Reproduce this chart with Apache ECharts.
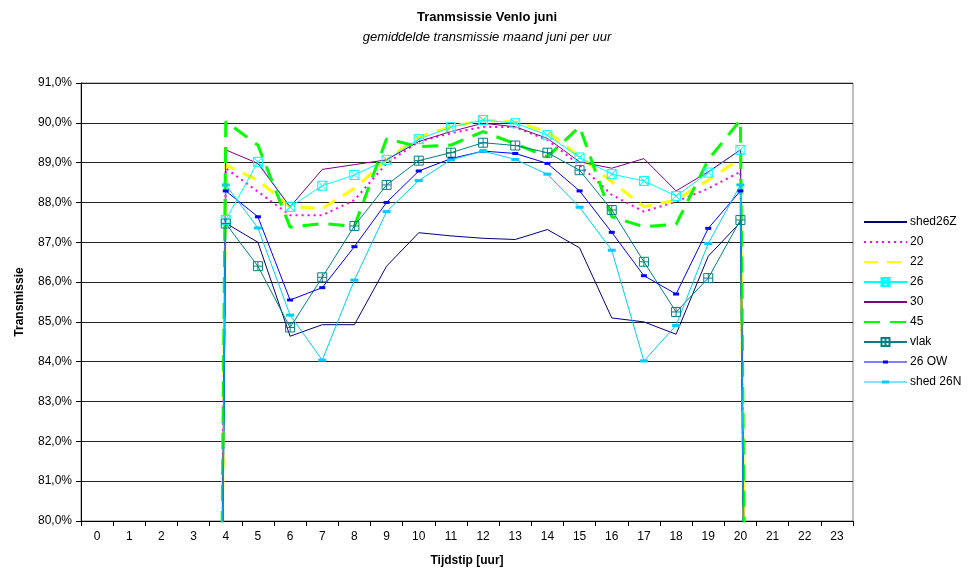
<!DOCTYPE html>
<html>
<head>
<meta charset="utf-8">
<script src="https://cdn.jsdelivr.net/npm/echarts@6/dist/echarts.min.js"></script>
<style>
  html, body { margin: 0; padding: 0; background: #fff; }
  #chart { width: 974px; height: 572px; }
</style>
</head>
<body>
<div id="chart"></div>
<script>
// Hours of the day (category axis)
const hours = ['0','1','2','3','4','5','6','7','8','9','10','11','12','13','14','15','16','17','18','19','20','21','22','23'];

// Mean hourly transmission in June, percent (0 = no sun)
const shed26Z = [0,0,0,0,87.48,87.00,84.64,84.93,84.93,86.40,87.24,87.16,87.10,87.07,87.32,86.86,85.10,85.00,84.69,86.65,87.50,0,0,0];
const s20     = [0,0,0,0,88.86,88.27,87.68,87.68,88.06,88.98,89.53,89.74,89.90,89.89,89.57,88.94,88.19,87.77,88.02,88.35,88.77,0,0,0];
const s22     = [0,0,0,0,88.94,88.56,87.89,87.85,88.35,89.07,89.65,89.90,90.07,90.02,89.78,89.15,88.52,87.89,88.06,88.56,89.10,0,0,0];
const s26     = [0,0,0,0,87.56,89.02,87.89,88.42,88.69,89.07,89.59,89.89,90.07,89.99,89.69,89.13,88.71,88.54,88.16,88.75,89.32,0,0,0];
const s30     = [0,0,0,0,89.32,88.98,87.89,88.83,88.95,89.07,89.53,89.78,89.99,89.90,89.61,89.02,88.86,89.10,88.29,88.77,89.32,0,0,0];
const s45     = [0,0,0,0,90.03,89.44,87.38,87.47,87.40,89.60,89.40,89.44,89.78,89.47,89.15,89.90,87.64,87.39,87.45,89.07,90.07,0,0,0];
const vlak    = [0,0,0,0,87.47,86.40,84.86,86.12,87.41,88.44,89.05,89.25,89.50,89.43,89.25,88.81,87.81,86.51,85.25,86.10,87.56,0,0,0];
const s26OW   = [0,0,0,0,88.29,87.64,85.55,85.86,86.89,88.00,88.79,89.10,89.29,89.23,88.98,88.29,87.25,86.16,85.70,87.35,88.29,0,0,0];
const shed26N = [0,0,0,0,88.44,87.36,85.17,84.04,86.05,87.77,88.55,89.07,89.29,89.08,88.71,87.88,86.80,84.02,84.91,86.97,88.44,0,0,0];

// Marker shapes: box with a cross, box with a plus, short bars
const boxCross = 'path://M0,0H10V10H0Z M0,0L10,10 M10,0L0,10';
const boxPlus  = 'path://M0,0H10V10H0Z M5,0V10 M0,5H10';
const shortBar = 'path://M0,0H6V3H0Z';
const longBar  = 'path://M0,0H8V3H0Z';
// Legend keys for the bar-marked lines: a thin line with the bar in the middle
const shortBarKey = 'path://M0,1H43V2H0Z M19,0H24V3H19Z';
const longBarKey  = 'path://M0,1H43V2H0Z M18,0H25V3H18Z';

function line(name, data, color, opts) {
  opts = opts || {};
  return {
    name: name,
    type: 'line',
    data: data,
    clip: true,
    showAllSymbol: true,
    symbol: opts.symbol || 'none',
    symbolSize: opts.symbolSize || 8,
    symbolKeepAspect: true,
    lineStyle: { color: color, width: opts.width || 1, type: opts.type || 'solid' },
    itemStyle: opts.hollow
      ? { color: 'rgba(255,255,255,0)', borderColor: color, borderWidth: 1 }
      : { color: color, borderColor: color, borderWidth: 0 },
    emphasis: { disabled: true },
    animation: false
  };
}

const series = [
  line('shed26Z', shed26Z, '#000080'),
  line('20', s20, '#FF00FF', { type: [2, 4], width: 2 }),
  line('22', s22, '#FFFF00', { type: [14, 9], width: 3 }),
  line('26', s26, '#00FFFF', { symbol: boxCross, symbolSize: 9, hollow: true }),
  line('30', s30, '#800080'),
  line('45', s45, '#00FF00', { type: [16, 10], width: 3 }),
  line('vlak', vlak, '#008080', { symbol: boxPlus, symbolSize: 9, hollow: true }),
  line('26 OW', s26OW, '#0000FF', { symbol: shortBar, symbolSize: 6 }),
  line('shed 26N', shed26N, '#00CCFF', { symbol: longBar, symbolSize: 8 })
];

// Legend entries: plain lines get no marker in their key
const legendData = series.map(s => {
  if (s.symbol === 'none') return { name: s.name, itemStyle: { opacity: 0 } };
  if (s.symbol === shortBar) return { name: s.name, icon: shortBarKey };
  if (s.symbol === longBar) return { name: s.name, icon: longBarKey };
  return { name: s.name };
});

const chart = echarts.init(document.getElementById('chart'));
chart.setOption({
  animation: false,
  backgroundColor: '#ffffff',
  title: [
    { text: 'Tranmsissie Venlo juni', left: 'center', top: 6,
      textStyle: { fontFamily: 'Liberation Sans, Arial', fontSize: 13, fontWeight: 'bold', color: '#000' } },
    { text: 'gemiddelde transmissie maand juni per uur', left: 'center', top: 26,
      textStyle: { fontFamily: 'Liberation Sans, Arial', fontSize: 13, fontWeight: 'normal', fontStyle: 'italic', color: '#000' } }
  ],
  legend: {
    data: legendData,
    orient: 'vertical',
    left: 863,
    top: 216,
    padding: 0,
    itemWidth: 43,
    itemHeight: 10,
    itemGap: 8,
    symbolKeepAspect: true,
    textStyle: { fontFamily: 'Liberation Sans, Arial', fontSize: 12, color: '#000', padding: [0, 0, 0, -2] },
    selectedMode: false
  },
  grid: {
    left: 81, right: 121, top: 83, bottom: 51,
    show: true, borderColor: '#808080', borderWidth: 1, backgroundColor: '#fff'
  },
  xAxis: {
    type: 'category',
    data: hours,
    boundaryGap: true,
    name: 'Tijdstip [uur]',
    nameLocation: 'middle',
    nameGap: 34,
    nameTextStyle: { fontFamily: 'Liberation Sans, Arial', fontSize: 12, fontWeight: 'bold', color: '#000' },
    axisLine: { lineStyle: { color: '#000', width: 1 } },
    axisTick: { show: true, alignWithLabel: false, length: 5, lineStyle: { color: '#000' } },
    axisLabel: { fontFamily: 'Liberation Sans, Arial', fontSize: 12, color: '#000', margin: 10, interval: 0 },
    splitLine: { show: false }
  },
  yAxis: {
    type: 'value',
    min: 80, max: 91, interval: 1,
    name: 'Transmissie',
    nameLocation: 'middle',
    nameGap: 55,
    nameRotate: 90,
    nameTextStyle: { fontFamily: 'Liberation Sans, Arial', fontSize: 12, fontWeight: 'bold', color: '#000' },
    axisLine: { show: true, lineStyle: { color: '#000', width: 1 } },
    axisTick: { show: true, inside: false, length: 5, lineStyle: { color: '#000' } },
    axisLabel: {
      fontFamily: 'Liberation Sans, Arial', fontSize: 12, color: '#000', margin: 9,
      formatter: v => v.toFixed(1).replace('.', ',') + '%'
    },
    splitLine: { show: true, lineStyle: { color: '#222', width: 1 } }
  },
  series: series
});
</script>
</body>
</html>
